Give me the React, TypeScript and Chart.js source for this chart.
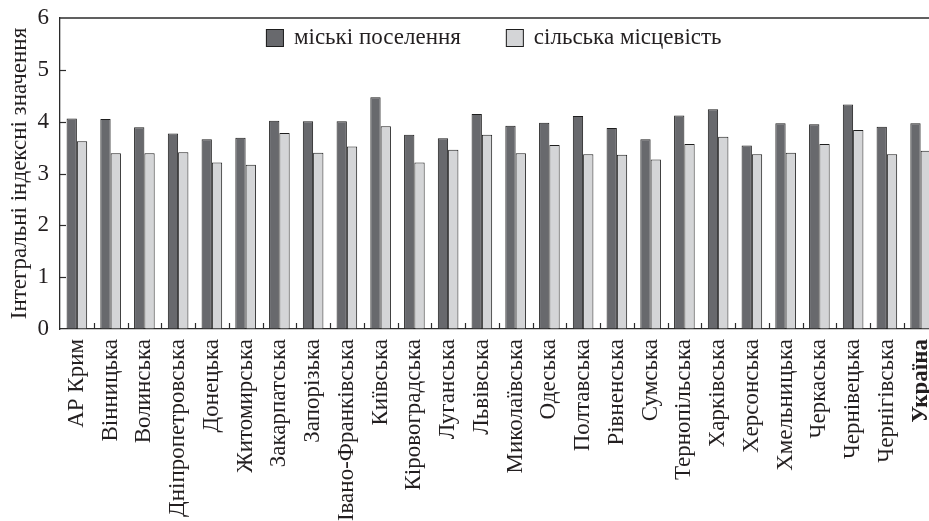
import React, { useEffect, useRef } from "react";
import { Chart, registerables } from "chart.js";
Chart.register(...registerables);

const regions = [
  "АР Крим", "Вінницька", "Волинська", "Дніпропетровська", "Донецька", "Житомирська",
  "Закарпатська", "Запорізька", "Івано-Франківська", "Київська", "Кіровоградська", "Луганська",
  "Львівська", "Миколаївська", "Одеська", "Полтавська", "Рівненська", "Сумська",
  "Тернопільська", "Харківська", "Херсонська", "Хмельницька", "Черкаська", "Чернівецька",
  "Чернігівська", "Україна",
];
const urban = [
  4.06, 4.05, 3.89, 3.77, 3.66, 3.69, 4.02, 4.01, 4.01, 4.47, 3.75, 3.68, 4.15,
  3.92, 3.98, 4.11, 3.88, 3.66, 4.12, 4.24, 3.54, 3.97, 3.95, 4.33, 3.9, 3.97,
];
const rural = [
  3.62, 3.39, 3.39, 3.41, 3.21, 3.17, 3.78, 3.4, 3.52, 3.91, 3.21, 3.46, 3.75,
  3.39, 3.55, 3.37, 3.36, 3.27, 3.57, 3.71, 3.37, 3.4, 3.57, 3.84, 3.37, 3.44,
];
const seriesNames = ["міські поселення", "сільська місцевість"];
const yTitle = "Інтегральні індексні значення";
const yMin = 0;
const yMax = 6;
const yStep = 1;

const FONT = "'Liberation Serif', 'Times New Roman', serif";
const TEXT = "#231f20";
const AXIS = "#2b2b2b";
const DARK = "#68696d";
const LIGHT = "#d4d5d7";
const EDGE = "#1e1e1e";

const decorPlugin = {
  id: "decor",
  afterDraw(chart: any) {
    const { ctx, chartArea, scales } = chart;
    const x = scales.x;
    const y = scales.y;
    ctx.save();
    ctx.strokeStyle = AXIS;
    ctx.lineWidth = 1.3;
    ctx.beginPath();
    ctx.moveTo(chartArea.left, chartArea.top);
    ctx.lineTo(chartArea.right, chartArea.top);
    ctx.stroke();
    ctx.lineWidth = 1.2;
    for (let v = yMin + yStep; v < yMax; v += yStep) {
      const py = Math.round(y.getPixelForValue(v)) + 0.5;
      ctx.beginPath();
      ctx.moveTo(chartArea.left, py);
      ctx.lineTo(chartArea.left + 6, py);
      ctx.stroke();
    }
    const n = regions.length;
    for (let i = 1; i < n; i++) {
      const px = Math.round((x.getPixelForValue(i - 1) + x.getPixelForValue(i)) / 2) + 0.5;
      ctx.beginPath();
      ctx.moveTo(px, chartArea.bottom);
      ctx.lineTo(px, chartArea.bottom - 6);
      ctx.stroke();
    }
    ctx.font = `23px ${FONT}`;
    const box = 18;
    const gap = 10;
    const itemGap = 45;
    const colors = [DARK, LIGHT];
    const widths = seriesNames.map((s) => box + gap + ctx.measureText(s).width);
    const total = widths[0] + itemGap + widths[1];
    let cx = (chartArea.left + chartArea.right) / 2 - 5 - total / 2;
    const by = chartArea.top + 11;
    seriesNames.forEach((s, i) => {
      ctx.fillStyle = colors[i];
      ctx.fillRect(cx, by, box, box);
      ctx.strokeStyle = EDGE;
      ctx.lineWidth = 1;
      ctx.strokeRect(cx + 0.5, by + 0.5, box - 1, box - 1);
      ctx.fillStyle = TEXT;
      ctx.textBaseline = "middle";
      ctx.textAlign = "left";
      ctx.fillText(s, cx + box + gap, by + box / 2);
      cx += widths[i] + itemGap;
    });
    ctx.restore();
  },
};

export default function App() {
  const ref = useRef<HTMLCanvasElement | null>(null);
  useEffect(() => {
    document.body.style.margin = "0";
    document.body.style.overflow = "hidden";
    document.body.style.background = "#ffffff";
    const canvas = ref.current;
    if (!canvas) return;
    const chart = new Chart(canvas, {
      type: "bar",
      data: {
        labels: regions,
        datasets: [
          {
            label: seriesNames[0],
            data: urban,
            backgroundColor: DARK,
            borderColor: EDGE,
            borderWidth: 1,
            categoryPercentage: 0.61,
            barPercentage: 1,
          },
          {
            label: seriesNames[1],
            data: rural,
            backgroundColor: LIGHT,
            borderColor: EDGE,
            borderWidth: 1,
            categoryPercentage: 0.61,
            barPercentage: 1,
          },
        ],
      },
      options: {
        responsive: false,
        animation: false,
        devicePixelRatio: 1,
        layout: { padding: { left: 0, top: 18, right: 2.5, bottom: 0 } },
        plugins: {
          legend: { display: false },
          tooltip: { enabled: false },
        },
        scales: {
          x: {
            offset: true,
            grid: { display: true, drawOnChartArea: false, drawTicks: false, offset: true },
            border: { display: true, color: AXIS, width: 1.3 },
            ticks: {
              autoSkip: false,
              minRotation: 90,
              maxRotation: 90,
              padding: 10,
              color: TEXT,
              font: (c: any) => ({
                family: FONT,
                size: 23,
                weight: c.index === regions.length - 1 ? "bold" : "normal",
              }),
            },
            afterFit: (s: any) => {
              s.height = 192;
              s.paddingLeft = 0;
              s.paddingRight = 0;
            },
          },
          y: {
            min: yMin,
            max: yMax,
            grid: { display: true, drawOnChartArea: false, drawTicks: false },
            border: { display: true, color: AXIS, width: 1.3 },
            ticks: {
              stepSize: yStep,
              padding: 11,
              color: TEXT,
              font: { family: FONT, size: 23 },
            },
            title: {
              display: true,
              text: yTitle,
              color: TEXT,
              font: { family: FONT, size: 23 },
              padding: { top: 6, bottom: 0 },
            },
            afterFit: (s: any) => {
              s.width = 60;
              s.paddingTop = 0;
              s.paddingBottom = 0;
            },
          },
        },
      },
      plugins: [decorPlugin],
    });
    return () => chart.destroy();
  }, []);
  return (
    <div style={{ width: 929, height: 521, overflow: "hidden", background: "#fff" }}>
      <canvas ref={ref} width={940} height={521} style={{ display: "block" }} />
    </div>
  );
}
